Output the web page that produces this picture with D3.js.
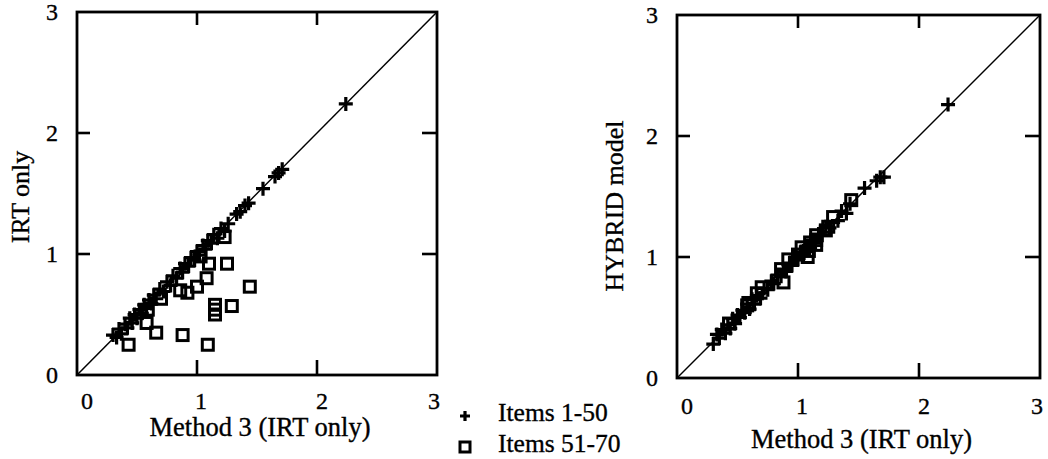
<!DOCTYPE html>
<html>
<head>
<meta charset="utf-8">
<script src="https://cdn.jsdelivr.net/npm/d3@7"></script>
<style>
  body { margin: 0; background: #fff; }
  svg text { font-family: "Liberation Serif", "Times New Roman", serif; fill: #000; stroke: #000; stroke-width: 0.35px; }
</style>
</head>
<body>
<div id="chart"></div>
<script>
// values

// items 1-50 (plus markers): Method 3 on x, both panels
var plusX = [0.30,0.33,0.35,0.37,0.40,0.42,0.44,0.46,0.48,0.50,
             0.52,0.54,0.56,0.58,0.60,0.62,0.64,0.66,0.69,0.72,
             0.75,0.78,0.80,0.83,0.86,0.88,0.90,0.93,0.95,0.98,
             1.00,1.02,1.05,1.07,1.09,1.12,1.14,1.17,1.20,1.23,
             1.26,1.33,1.36,1.40,1.43,1.55,1.65,1.68,1.71,2.24];
var plusIrt = [0.33,0.31,0.38,0.34,0.42,0.39,0.47,0.43,0.50,0.47,
               0.54,0.51,0.58,0.55,0.62,0.59,0.66,0.63,0.71,0.69,
               0.77,0.74,0.82,0.80,0.88,0.85,0.92,0.90,0.97,0.95,
               1.02,0.99,1.07,1.04,1.11,1.09,1.16,1.13,1.21,1.19,
               1.25,1.33,1.35,1.40,1.42,1.54,1.64,1.67,1.70,2.24];
var plusHybrid = [0.28,0.36,0.33,0.40,0.37,0.44,0.41,0.49,0.45,0.52,
                  0.50,0.56,0.54,0.61,0.57,0.65,0.61,0.68,0.66,0.74,
                  0.73,0.80,0.78,0.85,0.84,0.90,0.88,0.95,0.93,1.00,
                  0.98,1.04,1.03,1.09,1.07,1.14,1.12,1.19,1.18,1.25,
                  1.24,1.30,1.38,1.36,1.44,1.57,1.63,1.66,1.66,2.26];

// items 51-70 (square markers)
var sqX = [0.43,0.58,0.66,0.88,1.09,0.86,0.92,1.00,1.08,1.10,
           1.25,1.44,1.29,1.15,1.15,1.15,1.23,0.70,0.59,1.03];
var sqIrt = [0.25,0.43,0.35,0.33,0.25,0.70,0.68,0.73,0.80,0.92,
             0.92,0.73,0.57,0.58,0.54,0.50,1.14,0.63,0.54,0.98];
var sqHybrid = [0.45,0.60,0.70,0.79,1.05,0.90,0.98,1.02,1.00,1.12,
                1.25,1.47,1.33,1.14,1.18,1.10,1.22,0.75,0.62,1.08];

var tickVals = [0, 1, 2, 3];
var legendLabels = ["Items 1-50", "Items 51-70"];

var svg = d3.select("#chart").append("svg")
    .attr("width", 1048)
    .attr("height", 459);

function plusPath(cx, cy, r) {
  return "M" + (cx - r) + "," + cy + "H" + (cx + r) +
         "M" + cx + "," + (cy - r) + "V" + (cy + r);
}

function drawPanel(p) {
  var x = d3.scaleLinear().domain([0, 3]).range([p.left, p.right]);
  var y = d3.scaleLinear().domain([0, 3]).range([p.bottom, p.top]);
  var g = svg.append("g");

  // diagonal y = x
  g.append("line")
    .attr("x1", x(0)).attr("y1", y(0))
    .attr("x2", x(3)).attr("y2", y(3))
    .attr("stroke", "#000").attr("stroke-width", 1.5);

  // squares first, pluses on top
  g.selectAll("rect.sq").data(sqX).enter().append("rect")
    .attr("class", "sq")
    .attr("x", function(d) { return x(d) - 5.5; })
    .attr("y", function(d, i) { return y(p.sqY[i]) - 5.5; })
    .attr("width", 11).attr("height", 11)
    .attr("fill", "none").attr("stroke", "#000").attr("stroke-width", 3);

  g.selectAll("path.plus").data(plusX).enter().append("path")
    .attr("class", "plus")
    .attr("d", function(d, i) { return plusPath(x(d), y(p.plusY[i]), 7); })
    .attr("stroke", "#000").attr("stroke-width", 3.2).attr("fill", "none");

  // frame
  g.append("rect")
    .attr("x", p.left).attr("y", p.top)
    .attr("width", p.right - p.left).attr("height", p.bottom - p.top)
    .attr("fill", "none").attr("stroke", "#000").attr("stroke-width", 2.8);

  // inner ticks on all four sides at 1 and 2
  var inner = [1, 2];
  var tl = 13;
  inner.forEach(function(v) {
    g.append("line").attr("x1", x(v)).attr("x2", x(v)).attr("y1", p.bottom).attr("y2", p.bottom - tl - 2)
      .attr("stroke", "#000").attr("stroke-width", 2.6);
    g.append("line").attr("x1", x(v)).attr("x2", x(v)).attr("y1", p.top).attr("y2", p.top + tl)
      .attr("stroke", "#000").attr("stroke-width", 2.6);
    g.append("line").attr("y1", y(v)).attr("y2", y(v)).attr("x1", p.left).attr("x2", p.left + tl)
      .attr("stroke", "#000").attr("stroke-width", 2.6);
    g.append("line").attr("y1", y(v)).attr("y2", y(v)).attr("x1", p.right).attr("x2", p.right - tl - 2)
      .attr("stroke", "#000").attr("stroke-width", 2.6);
  });

  // tick labels
  var xOff = [10, 4, 5, -3];
  g.selectAll("text.xt").data(tickVals).enter().append("text")
    .attr("class", "xt")
    .attr("x", function(d, i) { return x(d) + xOff[i]; })
    .attr("y", p.bottom + p.xLabDy)
    .attr("text-anchor", "middle")
    .style("font-size", "24px")
    .text(function(d) { return d; });

  g.selectAll("text.yt").data(tickVals).enter().append("text")
    .attr("class", "yt")
    .attr("x", p.left - 19)
    .attr("y", function(d) { return y(d) + 8; })
    .attr("text-anchor", "end")
    .style("font-size", "24px")
    .text(function(d) { return d; });

  // axis titles
  g.append("text")
    .attr("x", (p.left + p.right) / 2 + 3)
    .attr("y", p.xTitleY)
    .attr("text-anchor", "middle")
    .style("font-size", "26.5px")
    .text("Method 3 (IRT only)");

  g.append("text")
    .attr("transform", "translate(" + p.yTitleX + "," + p.yTitleCy + ") rotate(-90)")
    .attr("text-anchor", "middle")
    .style("font-size", "26px")
    .text(p.yTitle);
}

drawPanel({
  left: 77, right: 437, top: 12, bottom: 375,
  plusY: plusIrt, sqY: sqIrt,
  yTitle: "IRT only", yTitleX: 29, yTitleCy: 197,
  xLabDy: 34, xTitleY: 436
});

drawPanel({
  left: 677, right: 1040, top: 15, bottom: 378,
  plusY: plusHybrid, sqY: sqHybrid,
  yTitle: "HYBRID model", yTitleX: 623, yTitleCy: 206,
  xLabDy: 36, xTitleY: 448
});

// legend
var legend = svg.append("g");
legend.append("path")
  .attr("d", plusPath(465, 416, 5))
  .attr("stroke", "#000").attr("stroke-width", 3.2).attr("fill", "none");
legend.append("rect")
  .attr("x", 460).attr("y", 442).attr("width", 10).attr("height", 10)
  .attr("fill", "none").attr("stroke", "#000").attr("stroke-width", 3);
legend.selectAll("text").data(legendLabels).enter().append("text")
  .attr("x", 498)
  .attr("y", function(d, i) { return 421 + i * 31; })
  .style("font-size", "25.5px")
  .text(function(d) { return d; });
</script>
</body>
</html>
